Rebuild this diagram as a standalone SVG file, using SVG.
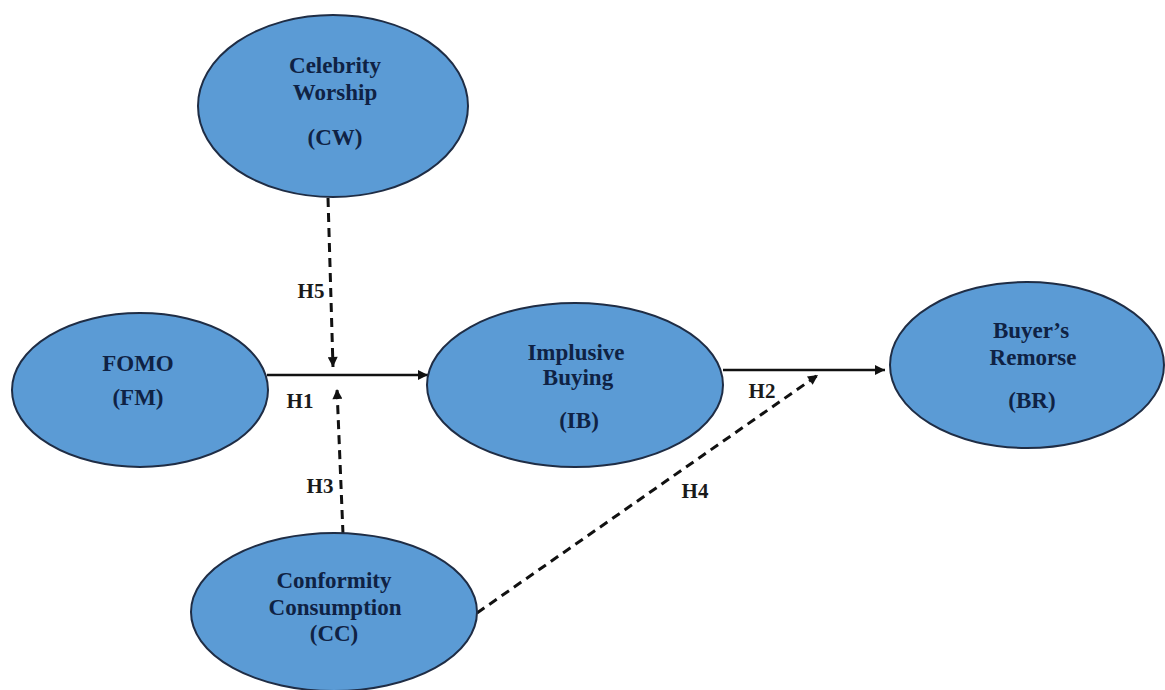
<svg xmlns="http://www.w3.org/2000/svg" width="1165" height="690" viewBox="0 0 1165 690">
<defs>
<style>
.node{fill:#5b9bd5;stroke:#1f2d45;stroke-width:2}
.nt{font-family:"Liberation Serif","Times New Roman",serif;font-weight:bold;font-size:23px;fill:#0f2244;text-anchor:middle}
.lb{font-family:"Liberation Serif","Times New Roman",serif;font-weight:bold;font-size:21px;fill:#1a1a1a;text-anchor:middle}
.solid{stroke:#111;stroke-width:2.5;fill:none}
.dash{stroke:#111;stroke-width:3;fill:none;stroke-dasharray:9 6}
</style>
<marker id="ah" viewBox="0 0 10 10" refX="10" refY="5" markerWidth="12" markerHeight="10" markerUnits="userSpaceOnUse" orient="auto">
<path d="M0,0 L10,5 L0,10 z" fill="#111"/>
</marker>
</defs>
<rect width="1165" height="690" fill="#ffffff"/>
<g id="connectors">
<line class="solid" x1="267" y1="375" x2="428" y2="375" marker-end="url(#ah)"/>
<line class="solid" x1="723" y1="370" x2="885" y2="370" marker-end="url(#ah)"/>
<line class="dash" x1="328" y1="198" x2="333" y2="367" marker-end="url(#ah)"/>
<line class="dash" x1="343" y1="534" x2="337" y2="389" marker-end="url(#ah)"/>
<line class="dash" x1="477" y1="613" x2="818" y2="375" marker-end="url(#ah)"/>
<text class="lb" x="311" y="298">H5</text>
<text class="lb" x="300" y="408">H1</text>
<text class="lb" x="320" y="493">H3</text>
<text class="lb" x="762" y="398">H2</text>
<text class="lb" x="695" y="498">H4</text>
</g>
<g id="CW">
<ellipse class="node" cx="333" cy="106" rx="135" ry="91"/>
<text class="nt" x="335" y="73">Celebrity</text>
<text class="nt" x="335" y="100">Worship</text>
<text class="nt" x="335" y="145">(CW)</text>
</g>
<g id="FM">
<ellipse class="node" cx="140" cy="390" rx="128" ry="77"/>
<text class="nt" x="138" y="371">FOMO</text>
<text class="nt" x="138" y="405">(FM)</text>
</g>
<g id="IB">
<ellipse class="node" cx="575" cy="385" rx="148" ry="82"/>
<text class="nt" x="576" y="360">Implusive</text>
<text class="nt" x="578" y="385">Buying</text>
<text class="nt" x="579" y="428">(IB)</text>
</g>
<g id="BR">
<ellipse class="node" cx="1027" cy="365" rx="137" ry="83"/>
<text class="nt" x="1031" y="338">Buyer’s</text>
<text class="nt" x="1033" y="365">Remorse</text>
<text class="nt" x="1032" y="408">(BR)</text>
</g>
<g id="CC">
<ellipse class="node" cx="334" cy="612" rx="143" ry="79"/>
<text class="nt" x="334" y="588">Conformity</text>
<text class="nt" x="335" y="615">Consumption</text>
<text class="nt" x="334" y="641">(CC)</text>
</g>
</svg>
